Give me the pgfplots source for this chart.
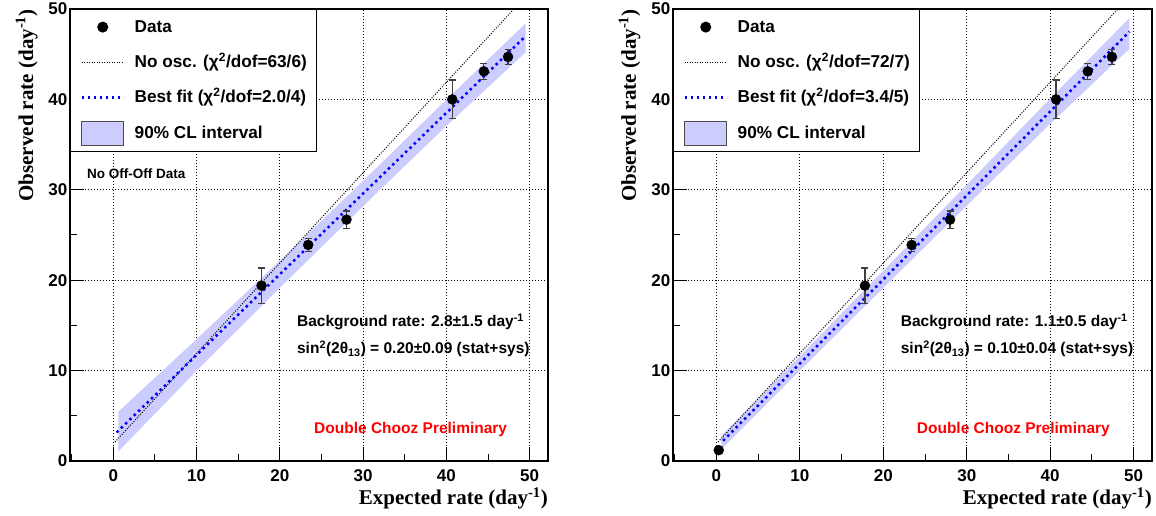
\documentclass[border=0pt]{standalone}
\usepackage{fontspec}
\setmainfont{Liberation Sans}
\newfontfamily\timesb{Liberation Serif}
\usepackage{pgfplots}
\pgfplotsset{compat=1.18}
\definecolor{band}{RGB}{204,204,255}
\definecolor{fitblue}{RGB}{0,0,255}

\tikzset{annot/.style={font=\fontsize{15.5}{18}\selectfont\bfseries, inner sep=0pt, anchor=base west}}

\pgfplotsset{
 rootstyle/.style={
  scale only axis, height=452pt,
  xmin=-5.2, xmax=52.2, ymin=0, ymax=50,
  xtick={0,10,...,50}, ytick={0,10,...,50},
  minor xtick={-5,5,15,25,35,45}, minor ytick={5,15,25,35,45},
  xtick pos=bottom, ytick pos=left,
  tick align=inside,
  major tick length=13.5pt, minor tick length=6.5pt,
  tick style={black, line width=1pt},
  grid=major, major grid style={black, line width=1pt, dash pattern=on 1pt off 2pt},
  axis line style={line width=1.5pt},
  ticklabel style={font=\fontsize{17}{18}\selectfont\bfseries},
  /pgf/number format/assume math mode=true,
  xticklabel style={inner sep=0pt, anchor=base, yshift=-21pt},
  yticklabel style={inner sep=0pt, anchor=east, xshift=-2.5pt},
  xlabel style={at={(axis description cs:1,-0.0973)}, anchor=base east, inner sep=0pt,
     font=\fontsize{21}{24}\selectfont\timesb\bfseries},
  ylabel style={at={(axis description cs:-0.0774,1)}, anchor=base east, inner sep=0pt,
     font=\fontsize{21}{24}\selectfont\timesb\bfseries},
  xlabel={Expected rate (day\textsuperscript{-1})},
  ylabel={Observed rate (day\textsuperscript{-1})},
  legend cell align=left,
  legend style={at={(0,1)}, anchor=north west, draw=black, line width=1pt, fill=white,
     inner xsep=10pt, inner ysep=5.6pt, row sep=11.25pt, column sep=9.7pt,
     font=\fontsize{17.2}{19}\selectfont\bfseries,
     nodes={inner sep=0pt, text height=17pt, text depth=7pt}},
  datast/.style={only marks, mark=*, mark size=5pt, black,
     error bars/.cd, y dir=both, y explicit,
     error bar style={line width=1.2pt, black!75},
     error mark options={rotate=90, mark size=3.5pt, line width=1.2pt, black!75}},
  noosc/.style={black, line width=1pt, dash pattern=on 1pt off 1.5pt},
  bestfit/.style={fitblue, line width=2.5pt, dash pattern=on 2.5pt off 3.5pt},
 }
}

\pgfplotstableread{
x y ey
17.8 19.4 1.95
23.4 23.9 0.7
28.0 26.7 0.95
40.7 40.0 2.15
44.5 43.1 0.9
47.4 44.7 0.85
}\dataA

\pgfplotstableread{
x y ey
0.28 1.2 0.4
17.8 19.4 1.95
23.4 23.9 0.7
28.0 26.7 0.95
40.7 40.0 2.15
44.5 43.1 0.9
47.4 44.7 0.85
}\dataB

\begin{document}
\begin{tikzpicture}
\useasboundingbox (0,0) rectangle (1156pt,516pt);

% ---------------- left panel ----------------
\begin{axis}[rootstyle, width=478pt, at={(70pt,55pt)}, anchor=south west]
\addlegendimage{legend image code/.code={\fill[black] (21pt,0pt) circle (5pt);}}
\addlegendentry{Data}
\addlegendimage{legend image code/.code={\draw[black, line width=1pt, dash pattern=on 1pt off 1.5pt] (0pt,0pt) -- (42pt,0pt);}}
\addlegendentry{No osc. (χ\textsuperscript{2}/dof=63/6)}
\addlegendimage{legend image code/.code={\draw[fitblue, line width=2.5pt, dash pattern=on 2.5pt off 3.5pt] (0pt,0pt) -- (42pt,0pt);}}
\addlegendentry{Best fit (χ\textsuperscript{2}/dof=2.0/4)}
\addlegendimage{legend image code/.code={\draw[fill=band, draw=black!70, line width=1pt] (0pt,-12pt) rectangle (42pt,12pt);}}
\addlegendentry{90\% CL interval}

% band polygon: upper edge then lower edge reversed
\addplot[forget plot, fill=band, draw=none] coordinates {
(0.6,5.45) (10,13.48) (20,22.16) (30,30.99) (40,39.97) (49.5,48.4)
(49.5,45.2) (40,37.07) (30,28.19) (20,19.16) (10,9.98) (0.6,1.05)};
\addplot[forget plot, noosc] coordinates {(0.2,2.1) (48.1,50)};
\addplot[forget plot, bestfit] coordinates {(0.4,3.16) (49.5,47.0)};
\addplot[forget plot, datast] table[x=x, y=y, y error=ey] {\dataA};

\node[font=\fontsize{13.5}{15}\selectfont\bfseries, inner sep=0pt, anchor=west] at (axis cs:-3.16,31.8) {No Off-Off Data};
\node[annot] at (axis cs:22.05,14.86) {Background rate: 2.8±1.5 day\textsuperscript{-1}};
\node[annot] at (axis cs:22.05,11.9) {sin\textsuperscript{2}(2θ\textsubscript{13}) = 0.20±0.09 (stat+sys)};
\node[annot, text=red] at (axis cs:24.1,2.99) {Double Chooz Preliminary};
\end{axis}

% ---------------- right panel ----------------
\begin{axis}[rootstyle, width=479pt, at={(673pt,55pt)}, anchor=south west]
\addlegendimage{legend image code/.code={\fill[black] (21pt,0pt) circle (5pt);}}
\addlegendentry{Data}
\addlegendimage{legend image code/.code={\draw[black, line width=1pt, dash pattern=on 1pt off 1.5pt] (0pt,0pt) -- (42pt,0pt);}}
\addlegendentry{No osc. (χ\textsuperscript{2}/dof=72/7)}
\addlegendimage{legend image code/.code={\draw[fitblue, line width=2.5pt, dash pattern=on 2.5pt off 3.5pt] (0pt,0pt) -- (42pt,0pt);}}
\addlegendentry{Best fit (χ\textsuperscript{2}/dof=3.4/5)}
\addlegendimage{legend image code/.code={\draw[fill=band, draw=black!70, line width=1pt] (0pt,-12pt) rectangle (42pt,12pt);}}
\addlegendentry{90\% CL interval}

\addplot[forget plot, fill=band, draw=none] coordinates {
(0.6,2.81) (10,11.6) (20,21.05) (30,30.55) (40,40.1) (49.5,49.0)
(49.5,45.6) (40,37.3) (30,28.25) (20,19.15) (10,10.0) (0.6,1.31)};
\addplot[forget plot, noosc] coordinates {(0.2,2.1) (48.1,50)};
\addplot[forget plot, bestfit] coordinates {(0.8,2.24) (49.5,47.5)};
\addplot[forget plot, datast] table[x=x, y=y, y error=ey] {\dataB};

\node[annot] at (axis cs:22.08,14.86) {Background rate: 1.1±0.5 day\textsuperscript{-1}};
\node[annot] at (axis cs:22.08,11.9) {sin\textsuperscript{2}(2θ\textsubscript{13}) = 0.10±0.04 (stat+sys)};
\node[annot, text=red] at (axis cs:24.0,2.99) {Double Chooz Preliminary};
\end{axis}
\end{tikzpicture}
\end{document}
